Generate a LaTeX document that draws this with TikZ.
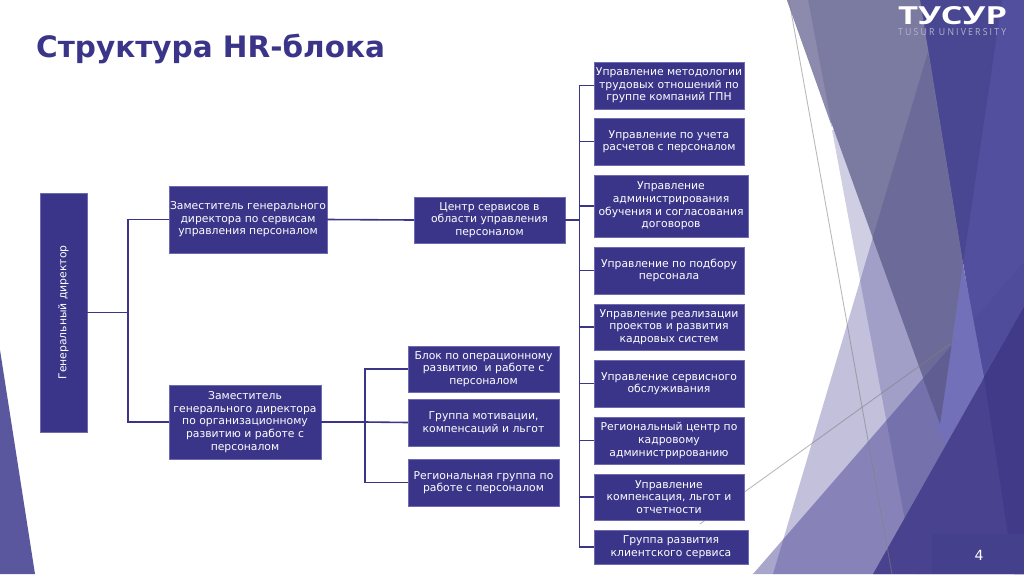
\documentclass[tikz,border=0pt]{standalone}
\usepackage{fontspec}
\usepackage{graphicx}
\setmainfont{DejaVu Sans}
\definecolor{boxc}{HTML}{3B3589}
\definecolor{boxe}{HTML}{6F6BB0}
\definecolor{mixc}{HTML}{403A8E}
\definecolor{leftc}{HTML}{5B579F}
\definecolor{greya}{HTML}{7B7AA0}
\definecolor{greyb}{HTML}{8D8BAD}
\definecolor{greyc}{HTML}{6C6A98}
\definecolor{greyd}{HTML}{5F5D92}
\definecolor{basea}{HTML}{534F9F}
\definecolor{baseb}{HTML}{4A4792}
\definecolor{basec}{HTML}{4F4C9B}
\definecolor{wedge}{HTML}{7270B8}
\definecolor{darka}{HTML}{48428F}
\definecolor{darkb}{HTML}{413A89}
\definecolor{darkc}{HTML}{45408C}
\definecolor{titlec}{HTML}{3B3589}
\definecolor{subc}{HTML}{B4B4CC}
\tikzset{
  orgbox/.style={rectangle,fill=boxc,draw=boxe,line width=.4pt,text=white,align=center,inner sep=0pt,
    font=\fontsize{10.8}{12.6}\selectfont},
  conn/.style={draw=boxc,line width=1.6pt},
  hairline/.style={draw=gray,line width=.9pt,opacity=.55},
  glass/.style={fill=mixc,fill opacity=#1}
}
\newcommand{\obox}[6]{\node[orgbox,minimum width=#4pt-#2pt,minimum height=#5pt-#3pt] (#1) at ({(#2+#4)/2},{(#3+#5)/2}) {#6};}
\begin{document}
\begin{tikzpicture}[x=1pt,y=-1pt]
\useasboundingbox (0,0) rectangle (1024,574);
% left shape
\fill[leftc] (0,350) -- (35,574) -- (0,574) -- cycle;
% translucent triangles
\fill[glass=.32] (928,52) -- (1014,574) -- (773,574) -- cycle;
\fill[glass=.25] (832,130) -- (915,574) -- (1014,574) -- (960,287) -- (860,130) -- cycle;
\fill[glass=.45] (753,574) -- (1024,262) -- (1024,574) -- cycle;
% right solid
\fill[basea] (920,0) -- (1024,0) -- (1024,574) -- (1014,574) -- cycle;
\fill[baseb] (915,0) -- (1002,0) -- (963,264) -- (930,100) -- cycle;
\fill[basec] (972.6,321) -- (1024,262) -- (1024,307) -- (982,377) -- cycle;
\fill[wedge] (960,264) -- (963,264) -- (984,377) -- (946,442) -- (936,424) -- cycle;
% grey triangle
\fill[greya] (787,0) -- (920,0) -- (963,264) -- (940,424) -- cycle;
\fill[greyb] (787,0) -- (808,0) -- (832,127) -- cycle;
\fill[greyc] (928,52) -- (963,264) -- (940,424) -- (872.6,238) -- cycle;
\fill[greyd] (923,378.5) -- (951.6,345.4) -- (940,424) -- cycle;
% bottom-right dark
\fill[darka] (1024,307) -- (1024,574) -- (873,574) -- cycle;
\fill[darkb] (984,377) -- (1024,307) -- (1024,574) -- (1014,574) -- cycle;
\fill[darkc] (932,534) rectangle (1024,574);
% hairlines
\coordinate (hla) at (789,0);
\coordinate (hlb) at (892,574);
\coordinate (hlc) at (950,344);
\coordinate (hld) at (700,524);
\draw[hairline] (hla) -- (hlb);
\draw[hairline] (hlc) -- (hld);
% logo
\node[inner sep=0pt,text=white,anchor=north west] (logo) at (898,6)
  {\resizebox{109pt}{18pt}{\fontspec{Open Sans}\bfseries ТУСУР}};
\node[inner sep=0pt,text=subc,anchor=north west] (logosub) at (898,28.5)
  {\resizebox{108pt}{7pt}{\fontspec{Open Sans}\addfontfeature{LetterSpace=25}TUSUR UNIVERSITY}};
\node[inner sep=0pt,text=white,font=\fontsize{14}{16}\selectfont] (pagenum) at (979,555) {4};
% title
\node[inner sep=0pt,anchor=base west,text=titlec,font=\fontsize{29.5}{34}\selectfont\bfseries] (title) at (36,57) {Структура HR-блока};
% boxes
\node[orgbox,minimum width=47pt,minimum height=239pt] (gd) at (63.5,312.5) {\rotatebox{90}{Генеральный директор}};
\obox{za}{169}{186}{327}{253}{Заместитель генерального\\директора по сервисам\\управления персоналом}
\obox{zb}{169}{385}{321}{459}{Заместитель\\генерального директора\\по организационному\\развитию и работе с\\персоналом}
\obox{cs}{414}{197}{565}{243}{Центр сервисов в\\области управления\\персоналом}
\obox{ba}{408}{346}{559}{392}{Блок по операционному\\развитию~~и работе с\\персоналом}
\obox{bb}{408}{399}{559}{446}{Группа мотивации,\\компенсаций и льгот}
\obox{bc}{408}{459}{559}{506}{Региональная группа по\\работе с персоналом}
\obox{ra}{594}{62}{744}{109}{Управление методологии\\трудовых отношений по\\группе компаний ГПН}
\obox{rb}{594}{118}{744}{165}{Управление по учета\\расчетов с персоналом}
\obox{rc}{594}{175}{748}{237}{Управление\\администрирования\\обучения и согласования\\договоров}
\obox{rd}{594}{247}{744}{294}{Управление по подбору\\персонала}
\obox{re}{594}{304}{744}{350}{Управление реализации\\проектов и развития\\кадровых систем}
\obox{rf}{594}{360}{744}{407}{Управление сервисного\\обслуживания}
\obox{rg}{594}{417}{744}{464}{Региональный центр по\\кадровому\\администрированию}
\obox{rh}{594}{474}{744}{520}{Управление\\компенсация, льгот и\\отчетности}
\obox{ri}{594}{530}{748}{564}{Группа развития\\клиентского сервиса}
% connectors
\coordinate (busa) at (128,312.5);
\coordinate (busb) at (365,422);
\coordinate (busc) at (579.5,220);
\draw[conn] (gd.east) -- (busa);
\draw[conn] (busa) |- (za.west);
\draw[conn] (busa) |- (zb.west);
\draw[conn] (za.east) -- (cs.west);
\draw[conn] (zb.east) -- (busb);
\draw[conn] (busb) |- (ba.west);
\draw[conn] (busb) -- (bb.west);
\draw[conn] (busb) |- (bc.west);
\draw[conn] (cs.east) -- (busc);
\foreach \n in {ra,rb,rc,rd,re,rf,rg,rh,ri}{\draw[conn] (busc) |- (\n.west);}
\end{tikzpicture}
\end{document}
